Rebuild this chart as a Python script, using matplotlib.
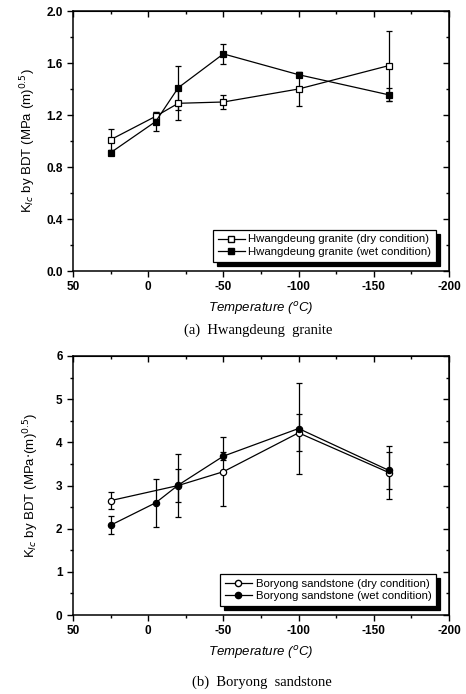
import matplotlib
matplotlib.use("Agg")
import matplotlib.pyplot as plt
from matplotlib.ticker import MultipleLocator
from matplotlib.lines import Line2D

plt.rcParams['font.family'] = ['Liberation Sans', 'DejaVu Sans']

# ---- data: Hwangdeung granite ----
granite_temp = [25, -5, -20, -50, -100, -160]
granite_dry = [1.01, 1.19, 1.29, 1.30, 1.40, 1.58]
granite_dry_err = [0.08, 0.03, 0.13, 0.055, 0.13, 0.27]
granite_wet = [0.91, 1.15, 1.41, 1.67, 1.51, 1.355]
granite_wet_err = [0.02, 0.07, 0.17, 0.08, 0.02, 0.05]

# ---- data: Boryong sandstone ----
sand_temp_dry = [25, -20, -50, -100, -160]
sand_dry = [2.65, 3.00, 3.32, 4.22, 3.30]
sand_dry_err = [0.19, 0.38, 0.80, 0.43, 0.62]
sand_temp_wet = [25, -5, -20, -50, -100, -160]
sand_wet = [2.08, 2.60, 3.01, 3.68, 4.32, 3.35]
sand_wet_err = [0.21, 0.55, 0.73, 0.10, 1.05, 0.42]

x_ticks = [50, 0, -50, -100, -150, -200]
x_ticklabels = ['50', '0', '-50', '-100', '-150', '-200']

fig = plt.figure(figsize=(4.66, 6.94), dpi=100)

W, H = 466, 694
def ax_rect(l, t, r, b):
    return [l / W, 1 - b / H, (r - l) / W, (b - t) / H]

ax1 = fig.add_axes(ax_rect(73, 11, 449, 271))
ax2 = fig.add_axes(ax_rect(73, 356, 449, 615))

tick_font = dict(fontsize=8.5, fontweight='bold')

def style(ax):
    ax.set_xlim(50, -200)
    ax.set_xticks(x_ticks)
    ax.set_xticklabels(x_ticklabels, **tick_font)
    ax.xaxis.set_minor_locator(MultipleLocator(25))
    ax.tick_params(which='both', direction='out', top=False, right=False, width=1.0)
    ax.tick_params(which='major', length=4)
    ax.tick_params(which='minor', length=2.5)
    for sp in ax.spines.values():
        sp.set_linewidth(1.1)
    axt = ax.secondary_xaxis('top')
    axt.set_xticks(x_ticks)
    axt.xaxis.set_minor_locator(MultipleLocator(25))
    axt.tick_params(which='both', direction='in', labeltop=False, width=1.0)
    axt.tick_params(which='major', length=4)
    axt.tick_params(which='minor', length=2.5)
    axr = ax.secondary_yaxis('right')
    axr.set_yticks(ax.get_yticks())
    axr.yaxis.set_minor_locator(ax.yaxis.get_minor_locator())
    axr.tick_params(which='both', direction='in', labelright=False, width=1.0)
    axr.tick_params(which='major', length=4)
    axr.tick_params(which='minor', length=2.5)
    ax.set_xlabel('Temperature ($^{o}$C)', fontsize=9.5, fontstyle='italic', labelpad=5)

eb = dict(color='black', lw=0.9, elinewidth=0.9, capsize=2.3, capthick=0.9,
          markersize=4.5, markeredgewidth=0.9)

# ---- top panel ----
ax1.set_ylim(0, 2.0)
ax1.set_yticks([0.0, 0.4, 0.8, 1.2, 1.6, 2.0])
ax1.set_yticklabels(['0.0', '0.4', '0.8', '1.2', '1.6', '2.0'], **tick_font)
ax1.yaxis.set_minor_locator(MultipleLocator(0.2))
ax1.errorbar(granite_temp, granite_dry, yerr=granite_dry_err, marker='s',
             mfc='white', mec='black', **eb)
ax1.errorbar(granite_temp, granite_wet, yerr=granite_wet_err, marker='s',
             mfc='black', mec='black', **eb)
ax1.set_ylabel('K$_{Ic}$ by BDT (MPa (m)$^{0.5}$)', fontsize=9.5, labelpad=6)
style(ax1)
h1 = [Line2D([], [], color='black', lw=0.9, marker='s', mfc='white', mec='black', ms=4.5),
      Line2D([], [], color='black', lw=0.9, marker='s', mfc='black', mec='black', ms=4.5)]
l1 = ['Hwangdeung granite (dry condition)', 'Hwangdeung granite (wet condition)']

# ---- bottom panel ----
ax2.set_ylim(0, 6)
ax2.set_yticks([0, 1, 2, 3, 4, 5, 6])
ax2.set_yticklabels(['0', '1', '2', '3', '4', '5', '6'], **tick_font)
ax2.yaxis.set_minor_locator(MultipleLocator(0.5))
ax2.errorbar(sand_temp_dry, sand_dry, yerr=sand_dry_err, marker='o',
             mfc='white', mec='black', **eb)
ax2.errorbar(sand_temp_wet, sand_wet, yerr=sand_wet_err, marker='o',
             mfc='black', mec='black', **eb)
ax2.set_ylabel('K$_{Ic}$ by BDT (MPa$\\cdot$(m)$^{0.5}$)', fontsize=9.5, labelpad=11)
style(ax2)
h2 = [Line2D([], [], color='black', lw=0.9, marker='o', mfc='white', mec='black', ms=4.5),
      Line2D([], [], color='black', lw=0.9, marker='o', mfc='black', mec='black', ms=4.5)]
l2 = ['Boryong sandstone (dry condition)', 'Boryong sandstone (wet condition)']

for ax, hh, ll in ((ax1, h1, l1), (ax2, h2, l2)):
    leg = ax.legend(hh, ll, loc='lower right', bbox_to_anchor=(0.965, 0.035),
                    prop={'size': 8.2},
                    frameon=True, fancybox=False,
                    shadow={'color': 'black', 'alpha': 1.0, 'ox': 3, 'oy': -3},
                    borderpad=0.4, labelspacing=0.25, handlelength=2.4,
                    handletextpad=0.3, borderaxespad=0)
    leg.get_frame().set_edgecolor('black')
    leg.get_frame().set_linewidth(0.9)

fig.text(258 / W, 1 - 330 / H, '(a)  Hwangdeung  granite', ha='center', va='center',
         fontsize=10.5, family=['Liberation Serif', 'DejaVu Serif'])
fig.text(262 / W, 1 - 682 / H, '(b)  Boryong  sandstone', ha='center', va='center',
         fontsize=10.5, family=['Liberation Serif', 'DejaVu Serif'])

fig.savefig('out.png', dpi=100)
